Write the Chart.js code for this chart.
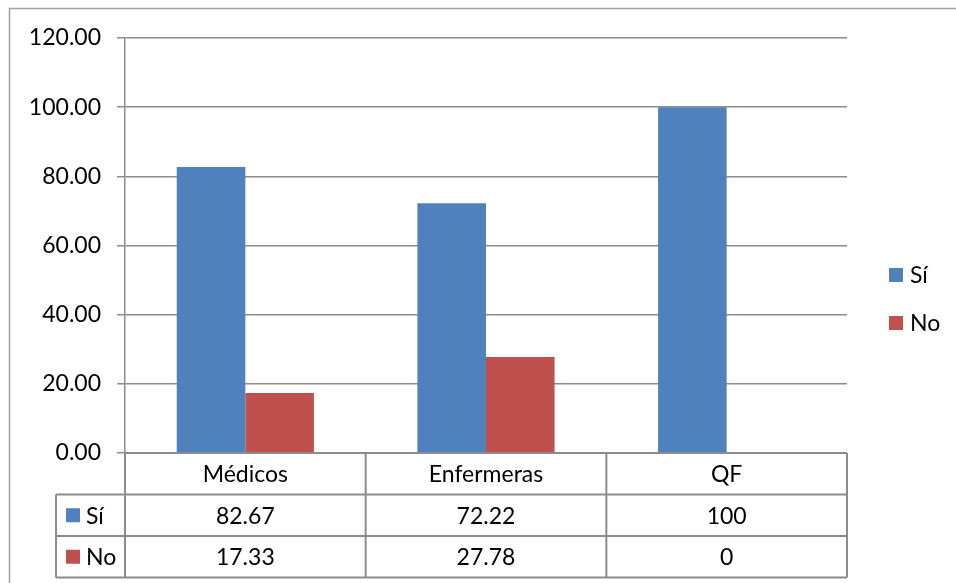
<!DOCTYPE html>
<html>
<head>
<meta charset="utf-8">
<script src="https://cdn.jsdelivr.net/npm/chart.js@4.4.1/dist/chart.umd.min.js"></script>
<style>
  html, body { margin: 0; padding: 0; background: #ffffff; }
  #wrap { width: 956px; height: 583px; position: relative; }
</style>
</head>
<body>
<div id="wrap"><canvas id="chart" width="956" height="583"></canvas></div>
<script>
// Categories and series values
const categories = ['Médicos', 'Enfermeras', 'QF'];
const siValues = [82.67, 72.22, 100];
const noValues = [17.33, 27.78, 0];
const seriesNames = ['Sí', 'No'];
const seriesColors = ['#4F81BD', '#C0504D'];

const FONT = 'Lato, "Open Sans", sans-serif';
const FONT_SIZE = 23;
const LINE = '#8C8C8C';

// Draws the outer frame, the data table under the plot and the legend on the right
const tablePlugin = {
  id: 'dataTable',
  beforeDraw(chart) {
    const ctx = chart.ctx;
    ctx.save();
    ctx.fillStyle = '#ffffff';
    ctx.fillRect(0, 0, chart.width, chart.height);
    ctx.strokeStyle = '#A0A0A0';
    ctx.lineWidth = 1.5;
    ctx.strokeRect(9.5, 8.5, 1200, 1200);
    ctx.restore();
  },
  afterDraw(chart) {
    const ctx = chart.ctx;
    const area = chart.chartArea;
    const x = chart.scales.x;
    const n = categories.length;
    const step = (area.right - area.left) / n;
    const rowH = 41.5;
    const top = area.bottom;
    const r1 = top + rowH, r2 = r1 + rowH, r3 = r2 + rowH;
    const labelLeft = 56;

    ctx.save();
    ctx.strokeStyle = LINE;
    ctx.lineWidth = 2;
    ctx.beginPath();
    // header row
    ctx.moveTo(area.left, top); ctx.lineTo(area.right, top);
    ctx.moveTo(labelLeft, r1); ctx.lineTo(area.right, r1);
    ctx.moveTo(labelLeft, r2); ctx.lineTo(area.right, r2);
    ctx.moveTo(labelLeft, r3); ctx.lineTo(area.right, r3);
    ctx.moveTo(labelLeft, r1); ctx.lineTo(labelLeft, r3);
    for (let i = 0; i <= n; i++) {
      const cx = area.left + step * i;
      ctx.moveTo(cx, top); ctx.lineTo(cx, r3);
    }
    ctx.stroke();

    ctx.fillStyle = '#000000';
    ctx.font = FONT_SIZE + 'px ' + FONT;
    ctx.textAlign = 'center';
    ctx.textBaseline = 'middle';
    const rows = [siValues, noValues];
    for (let i = 0; i < n; i++) {
      const cx = x.getPixelForValue(i);
      ctx.fillText(categories[i], cx, top + rowH / 2 + 1);
      ctx.fillText(String(rows[0][i]), cx, r1 + rowH / 2 + 1);
      ctx.fillText(String(rows[1][i]), cx, r2 + rowH / 2 + 1);
    }
    // row keys
    ctx.textAlign = 'left';
    [r1, r2].forEach((ry, k) => {
      ctx.fillStyle = seriesColors[k];
      ctx.fillRect(66, ry + rowH / 2 - 7, 14, 14);
      ctx.fillStyle = '#000000';
      ctx.fillText(seriesNames[k], 86, ry + rowH / 2 + 1);
    });

    // legend
    const legendY = [275, 323];
    seriesNames.forEach((name, k) => {
      ctx.fillStyle = seriesColors[k];
      ctx.fillRect(889, legendY[k] - 7, 14, 14);
      ctx.fillStyle = '#000000';
      ctx.fillText(name, 910, legendY[k] + 1);
    });
    ctx.restore();
  }
};

new Chart(document.getElementById('chart'), {
  type: 'bar',
  data: {
    labels: categories,
    datasets: [
      { label: seriesNames[0], data: siValues, backgroundColor: seriesColors[0] },
      { label: seriesNames[1], data: noValues, backgroundColor: seriesColors[1] }
    ]
  },
  options: {
    responsive: false,
    animation: false,
    devicePixelRatio: 1,
    layout: { padding: { top: 38, right: 109, bottom: 130, left: 0 } },
    plugins: {
      legend: { display: false },
      tooltip: { enabled: false }
    },
    datasets: {
      bar: { categoryPercentage: 0.57, barPercentage: 1.0 }
    },
    scales: {
      x: {
        display: false
      },
      y: {
        min: 0,
        max: 120,
        afterFit(scale) { scale.width = 125; },
        ticks: {
          stepSize: 20,
          padding: 16,
          color: '#000000',
          font: { family: FONT, size: FONT_SIZE },
          callback: v => Number(v).toFixed(2)
        },
        grid: { color: LINE, lineWidth: 1.5, tickLength: 8, tickColor: LINE },
        border: { color: LINE, width: 1.5 }
      }
    }
  },
  plugins: [tablePlugin]
});
</script>
</body>
</html>
